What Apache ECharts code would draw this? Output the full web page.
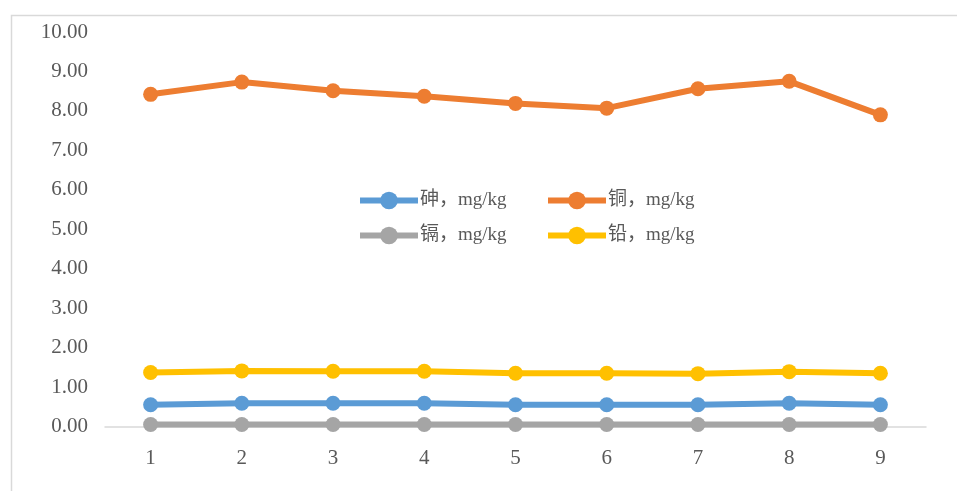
<!DOCTYPE html>
<html>
<head>
<meta charset="utf-8">
<script src="https://cdn.jsdelivr.net/npm/echarts@6/dist/echarts.min.js"></script>
<style>
  html, body { margin: 0; padding: 0; background: #fff; }
  #chart { width: 957px; height: 491px; }
</style>
</head>
<body>
<div id="chart"></div>
<script>
// Sample numbers along the x axis
const categories = ['1', '2', '3', '4', '5', '6', '7', '8', '9'];

// Heavy-metal content per sample, mg/kg
const arsenic = [0.55, 0.59, 0.59, 0.59, 0.55, 0.55, 0.55, 0.59, 0.55];
const copper  = [8.42, 8.73, 8.51, 8.37, 8.19, 8.07, 8.56, 8.75, 7.90];
const cadmium = [0.05, 0.05, 0.05, 0.05, 0.05, 0.05, 0.05, 0.05, 0.05];
const lead    = [1.37, 1.41, 1.40, 1.40, 1.35, 1.35, 1.34, 1.39, 1.35];

const seriesNames = ['砷，mg/kg', '铜，mg/kg', '镉，mg/kg', '铅，mg/kg'];
const seriesData = [arsenic, copper, cadmium, lead];
const colors = ['#5B9BD5', '#ED7D31', '#A5A5A5', '#FFC000'];

const textFont = '"Liberation Serif", "Noto Sans CJK SC", serif';

const chart = echarts.init(document.getElementById('chart'), null, { renderer: 'canvas' });

// one legend per item so that the four entries sit in a 2x2 block
const legendSlots = [
  { left: 357, top: 191 },
  { left: 545, top: 191 },
  { left: 357, top: 226 },
  { left: 545, top: 226 }
];

const option = {
  animation: false,
  backgroundColor: '#ffffff',
  color: colors,
  graphic: [{
    type: 'rect',
    left: 9,
    top: 13,
    shape: { width: 1100, height: 1000 },
    style: { fill: 'none', stroke: '#d9d9d9', lineWidth: 1.5 },
    silent: true
  }],
  grid: { left: 105, right: 31, top: 32, bottom: 64.5 },
  legend: legendSlots.map((slot, i) => ({
    data: [seriesNames[i]],
    left: slot.left,
    top: slot.top,
    padding: 0,
    itemWidth: 58,
    itemHeight: 22,
    itemGap: 0,
    lineStyle: { width: 6 },
    textStyle: { fontFamily: textFont, fontSize: 19, color: '#595959', padding: [0, 0, 0, -3] },
    selectedMode: false
  })),
  xAxis: {
    type: 'category',
    data: categories,
    boundaryGap: true,
    axisLine: { lineStyle: { color: '#d9d9d9', width: 1.5 } },
    axisTick: { show: false },
    axisLabel: { fontFamily: textFont, fontSize: 21, color: '#595959', margin: 21 },
    splitLine: { show: false }
  },
  yAxis: {
    type: 'value',
    min: 0,
    max: 10,
    interval: 1,
    axisLine: { show: false },
    axisTick: { show: false },
    splitLine: { show: false },
    axisLabel: {
      fontFamily: textFont,
      fontSize: 21,
      color: '#595959',
      margin: 17,
      formatter: v => v.toFixed(2)
    }
  },
  series: seriesNames.map((name, i) => ({
    name: name,
    type: 'line',
    data: seriesData[i],
    symbol: 'circle',
    symbolSize: 15,
    lineStyle: { width: 6, color: colors[i] },
    itemStyle: { color: colors[i] },
    z: i === 2 ? 1 : 2
  }))
};

chart.setOption(option);
</script>
</body>
</html>
